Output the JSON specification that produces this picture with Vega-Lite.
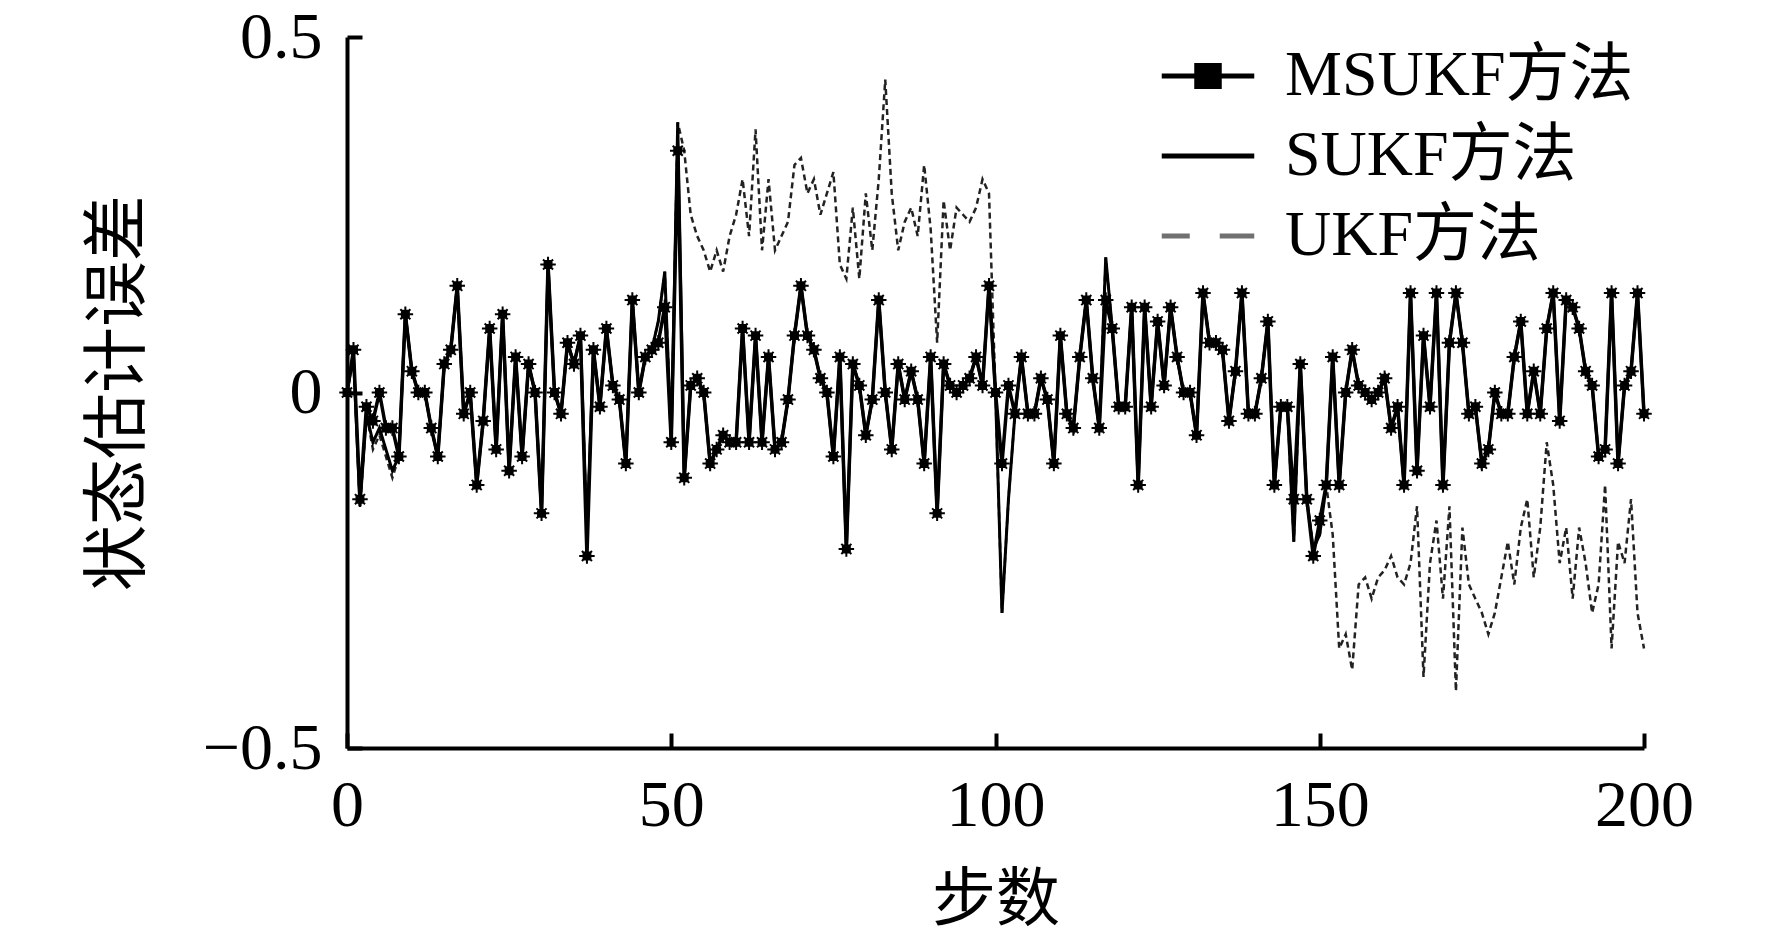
{
  "$schema": "https://vega.github.io/schema/vega-lite/v6.json",
  "width": 1297,
  "height": 711,
  "autosize": "none",
  "padding": {"left": 347, "top": 37, "right": 128, "bottom": 190},
  "background": "white",
  "config": {"view": {"stroke": null}, "font": "Liberation Serif"},
  "datasets": {
    "err": [
      {"step":0,"series":"MSUKF方法","value":0},{"step":1,"series":"MSUKF方法","value":0.06},{"step":2,"series":"MSUKF方法","value":-0.15},{"step":3,"series":"MSUKF方法","value":-0.02},{"step":4,"series":"MSUKF方法","value":-0.04},{"step":5,"series":"MSUKF方法","value":0},{"step":6,"series":"MSUKF方法","value":-0.05},{"step":7,"series":"MSUKF方法","value":-0.05},{"step":8,"series":"MSUKF方法","value":-0.09},{"step":9,"series":"MSUKF方法","value":0.11},
      {"step":10,"series":"MSUKF方法","value":0.03},{"step":11,"series":"MSUKF方法","value":0},{"step":12,"series":"MSUKF方法","value":0},{"step":13,"series":"MSUKF方法","value":-0.05},{"step":14,"series":"MSUKF方法","value":-0.09},{"step":15,"series":"MSUKF方法","value":0.04},{"step":16,"series":"MSUKF方法","value":0.06},{"step":17,"series":"MSUKF方法","value":0.15},{"step":18,"series":"MSUKF方法","value":-0.03},{"step":19,"series":"MSUKF方法","value":0},
      {"step":20,"series":"MSUKF方法","value":-0.13},{"step":21,"series":"MSUKF方法","value":-0.04},{"step":22,"series":"MSUKF方法","value":0.09},{"step":23,"series":"MSUKF方法","value":-0.08},{"step":24,"series":"MSUKF方法","value":0.11},{"step":25,"series":"MSUKF方法","value":-0.11},{"step":26,"series":"MSUKF方法","value":0.05},{"step":27,"series":"MSUKF方法","value":-0.09},{"step":28,"series":"MSUKF方法","value":0.04},{"step":29,"series":"MSUKF方法","value":0},
      {"step":30,"series":"MSUKF方法","value":-0.17},{"step":31,"series":"MSUKF方法","value":0.18},{"step":32,"series":"MSUKF方法","value":0},{"step":33,"series":"MSUKF方法","value":-0.03},{"step":34,"series":"MSUKF方法","value":0.07},{"step":35,"series":"MSUKF方法","value":0.04},{"step":36,"series":"MSUKF方法","value":0.08},{"step":37,"series":"MSUKF方法","value":-0.23},{"step":38,"series":"MSUKF方法","value":0.06},{"step":39,"series":"MSUKF方法","value":-0.02},
      {"step":40,"series":"MSUKF方法","value":0.09},{"step":41,"series":"MSUKF方法","value":0.01},{"step":42,"series":"MSUKF方法","value":-0.01},{"step":43,"series":"MSUKF方法","value":-0.1},{"step":44,"series":"MSUKF方法","value":0.13},{"step":45,"series":"MSUKF方法","value":0},{"step":46,"series":"MSUKF方法","value":0.05},{"step":47,"series":"MSUKF方法","value":0.06},{"step":48,"series":"MSUKF方法","value":0.07},{"step":49,"series":"MSUKF方法","value":0.12},
      {"step":50,"series":"MSUKF方法","value":-0.07},{"step":51,"series":"MSUKF方法","value":0.34},{"step":52,"series":"MSUKF方法","value":-0.12},{"step":53,"series":"MSUKF方法","value":0.01},{"step":54,"series":"MSUKF方法","value":0.02},{"step":55,"series":"MSUKF方法","value":0},{"step":56,"series":"MSUKF方法","value":-0.1},{"step":57,"series":"MSUKF方法","value":-0.08},{"step":58,"series":"MSUKF方法","value":-0.06},{"step":59,"series":"MSUKF方法","value":-0.07},
      {"step":60,"series":"MSUKF方法","value":-0.07},{"step":61,"series":"MSUKF方法","value":0.09},{"step":62,"series":"MSUKF方法","value":-0.07},{"step":63,"series":"MSUKF方法","value":0.08},{"step":64,"series":"MSUKF方法","value":-0.07},{"step":65,"series":"MSUKF方法","value":0.05},{"step":66,"series":"MSUKF方法","value":-0.08},{"step":67,"series":"MSUKF方法","value":-0.07},{"step":68,"series":"MSUKF方法","value":-0.01},{"step":69,"series":"MSUKF方法","value":0.08},
      {"step":70,"series":"MSUKF方法","value":0.15},{"step":71,"series":"MSUKF方法","value":0.08},{"step":72,"series":"MSUKF方法","value":0.06},{"step":73,"series":"MSUKF方法","value":0.02},{"step":74,"series":"MSUKF方法","value":0},{"step":75,"series":"MSUKF方法","value":-0.09},{"step":76,"series":"MSUKF方法","value":0.05},{"step":77,"series":"MSUKF方法","value":-0.22},{"step":78,"series":"MSUKF方法","value":0.04},{"step":79,"series":"MSUKF方法","value":0.01},
      {"step":80,"series":"MSUKF方法","value":-0.06},{"step":81,"series":"MSUKF方法","value":-0.01},{"step":82,"series":"MSUKF方法","value":0.13},{"step":83,"series":"MSUKF方法","value":0},{"step":84,"series":"MSUKF方法","value":-0.08},{"step":85,"series":"MSUKF方法","value":0.04},{"step":86,"series":"MSUKF方法","value":-0.01},{"step":87,"series":"MSUKF方法","value":0.03},{"step":88,"series":"MSUKF方法","value":-0.01},{"step":89,"series":"MSUKF方法","value":-0.1},
      {"step":90,"series":"MSUKF方法","value":0.05},{"step":91,"series":"MSUKF方法","value":-0.17},{"step":92,"series":"MSUKF方法","value":0.04},{"step":93,"series":"MSUKF方法","value":0.01},{"step":94,"series":"MSUKF方法","value":0},{"step":95,"series":"MSUKF方法","value":0.01},{"step":96,"series":"MSUKF方法","value":0.02},{"step":97,"series":"MSUKF方法","value":0.05},{"step":98,"series":"MSUKF方法","value":0.01},{"step":99,"series":"MSUKF方法","value":0.15},
      {"step":100,"series":"MSUKF方法","value":0},{"step":101,"series":"MSUKF方法","value":-0.1},{"step":102,"series":"MSUKF方法","value":0.01},{"step":103,"series":"MSUKF方法","value":-0.03},{"step":104,"series":"MSUKF方法","value":0.05},{"step":105,"series":"MSUKF方法","value":-0.03},{"step":106,"series":"MSUKF方法","value":-0.03},{"step":107,"series":"MSUKF方法","value":0.02},{"step":108,"series":"MSUKF方法","value":-0.01},{"step":109,"series":"MSUKF方法","value":-0.1},
      {"step":110,"series":"MSUKF方法","value":0.08},{"step":111,"series":"MSUKF方法","value":-0.03},{"step":112,"series":"MSUKF方法","value":-0.05},{"step":113,"series":"MSUKF方法","value":0.05},{"step":114,"series":"MSUKF方法","value":0.13},{"step":115,"series":"MSUKF方法","value":0.02},{"step":116,"series":"MSUKF方法","value":-0.05},{"step":117,"series":"MSUKF方法","value":0.13},{"step":118,"series":"MSUKF方法","value":0.09},{"step":119,"series":"MSUKF方法","value":-0.02},
      {"step":120,"series":"MSUKF方法","value":-0.02},{"step":121,"series":"MSUKF方法","value":0.12},{"step":122,"series":"MSUKF方法","value":-0.13},{"step":123,"series":"MSUKF方法","value":0.12},{"step":124,"series":"MSUKF方法","value":-0.02},{"step":125,"series":"MSUKF方法","value":0.1},{"step":126,"series":"MSUKF方法","value":0.01},{"step":127,"series":"MSUKF方法","value":0.12},{"step":128,"series":"MSUKF方法","value":0.05},{"step":129,"series":"MSUKF方法","value":0},
      {"step":130,"series":"MSUKF方法","value":0},{"step":131,"series":"MSUKF方法","value":-0.06},{"step":132,"series":"MSUKF方法","value":0.14},{"step":133,"series":"MSUKF方法","value":0.07},{"step":134,"series":"MSUKF方法","value":0.07},{"step":135,"series":"MSUKF方法","value":0.06},{"step":136,"series":"MSUKF方法","value":-0.04},{"step":137,"series":"MSUKF方法","value":0.03},{"step":138,"series":"MSUKF方法","value":0.14},{"step":139,"series":"MSUKF方法","value":-0.03},
      {"step":140,"series":"MSUKF方法","value":-0.03},{"step":141,"series":"MSUKF方法","value":0.02},{"step":142,"series":"MSUKF方法","value":0.1},{"step":143,"series":"MSUKF方法","value":-0.13},{"step":144,"series":"MSUKF方法","value":-0.02},{"step":145,"series":"MSUKF方法","value":-0.02},{"step":146,"series":"MSUKF方法","value":-0.15},{"step":147,"series":"MSUKF方法","value":0.04},{"step":148,"series":"MSUKF方法","value":-0.15},{"step":149,"series":"MSUKF方法","value":-0.23},
      {"step":150,"series":"MSUKF方法","value":-0.18},{"step":151,"series":"MSUKF方法","value":-0.13},{"step":152,"series":"MSUKF方法","value":0.05},{"step":153,"series":"MSUKF方法","value":-0.13},{"step":154,"series":"MSUKF方法","value":0},{"step":155,"series":"MSUKF方法","value":0.06},{"step":156,"series":"MSUKF方法","value":0.01},{"step":157,"series":"MSUKF方法","value":0},{"step":158,"series":"MSUKF方法","value":-0.01},{"step":159,"series":"MSUKF方法","value":0},
      {"step":160,"series":"MSUKF方法","value":0.02},{"step":161,"series":"MSUKF方法","value":-0.05},{"step":162,"series":"MSUKF方法","value":-0.02},{"step":163,"series":"MSUKF方法","value":-0.13},{"step":164,"series":"MSUKF方法","value":0.14},{"step":165,"series":"MSUKF方法","value":-0.11},{"step":166,"series":"MSUKF方法","value":0.08},{"step":167,"series":"MSUKF方法","value":-0.02},{"step":168,"series":"MSUKF方法","value":0.14},{"step":169,"series":"MSUKF方法","value":-0.13},
      {"step":170,"series":"MSUKF方法","value":0.07},{"step":171,"series":"MSUKF方法","value":0.14},{"step":172,"series":"MSUKF方法","value":0.07},{"step":173,"series":"MSUKF方法","value":-0.03},{"step":174,"series":"MSUKF方法","value":-0.02},{"step":175,"series":"MSUKF方法","value":-0.1},{"step":176,"series":"MSUKF方法","value":-0.08},{"step":177,"series":"MSUKF方法","value":0},{"step":178,"series":"MSUKF方法","value":-0.03},{"step":179,"series":"MSUKF方法","value":-0.03},
      {"step":180,"series":"MSUKF方法","value":0.05},{"step":181,"series":"MSUKF方法","value":0.1},{"step":182,"series":"MSUKF方法","value":-0.03},{"step":183,"series":"MSUKF方法","value":0.03},{"step":184,"series":"MSUKF方法","value":-0.03},{"step":185,"series":"MSUKF方法","value":0.09},{"step":186,"series":"MSUKF方法","value":0.14},{"step":187,"series":"MSUKF方法","value":-0.04},{"step":188,"series":"MSUKF方法","value":0.13},{"step":189,"series":"MSUKF方法","value":0.12},
      {"step":190,"series":"MSUKF方法","value":0.09},{"step":191,"series":"MSUKF方法","value":0.03},{"step":192,"series":"MSUKF方法","value":0.01},{"step":193,"series":"MSUKF方法","value":-0.09},{"step":194,"series":"MSUKF方法","value":-0.08},{"step":195,"series":"MSUKF方法","value":0.14},{"step":196,"series":"MSUKF方法","value":-0.1},{"step":197,"series":"MSUKF方法","value":0.01},{"step":198,"series":"MSUKF方法","value":0.03},{"step":199,"series":"MSUKF方法","value":0.14},
      {"step":200,"series":"MSUKF方法","value":-0.03},

      {"step":0,"series":"SUKF方法","value":0},{"step":1,"series":"SUKF方法","value":0.05},{"step":2,"series":"SUKF方法","value":-0.16},{"step":3,"series":"SUKF方法","value":-0.03},{"step":4,"series":"SUKF方法","value":-0.07},{"step":5,"series":"SUKF方法","value":-0.05},{"step":6,"series":"SUKF方法","value":-0.08},{"step":7,"series":"SUKF方法","value":-0.11},{"step":8,"series":"SUKF方法","value":-0.09},{"step":9,"series":"SUKF方法","value":0.11},
      {"step":10,"series":"SUKF方法","value":0.03},{"step":11,"series":"SUKF方法","value":0},{"step":12,"series":"SUKF方法","value":0},{"step":13,"series":"SUKF方法","value":-0.05},{"step":14,"series":"SUKF方法","value":-0.09},{"step":15,"series":"SUKF方法","value":0.04},{"step":16,"series":"SUKF方法","value":0.06},{"step":17,"series":"SUKF方法","value":0.15},{"step":18,"series":"SUKF方法","value":-0.03},{"step":19,"series":"SUKF方法","value":0},
      {"step":20,"series":"SUKF方法","value":-0.13},{"step":21,"series":"SUKF方法","value":-0.04},{"step":22,"series":"SUKF方法","value":0.09},{"step":23,"series":"SUKF方法","value":-0.08},{"step":24,"series":"SUKF方法","value":0.11},{"step":25,"series":"SUKF方法","value":-0.11},{"step":26,"series":"SUKF方法","value":0.05},{"step":27,"series":"SUKF方法","value":-0.09},{"step":28,"series":"SUKF方法","value":0.04},{"step":29,"series":"SUKF方法","value":0},
      {"step":30,"series":"SUKF方法","value":-0.17},{"step":31,"series":"SUKF方法","value":0.18},{"step":32,"series":"SUKF方法","value":0},{"step":33,"series":"SUKF方法","value":-0.03},{"step":34,"series":"SUKF方法","value":0.07},{"step":35,"series":"SUKF方法","value":0.04},{"step":36,"series":"SUKF方法","value":0.08},{"step":37,"series":"SUKF方法","value":-0.2},{"step":38,"series":"SUKF方法","value":0.06},{"step":39,"series":"SUKF方法","value":-0.02},
      {"step":40,"series":"SUKF方法","value":0.09},{"step":41,"series":"SUKF方法","value":0.01},{"step":42,"series":"SUKF方法","value":-0.01},{"step":43,"series":"SUKF方法","value":-0.1},{"step":44,"series":"SUKF方法","value":0.13},{"step":45,"series":"SUKF方法","value":0},{"step":46,"series":"SUKF方法","value":0.05},{"step":47,"series":"SUKF方法","value":0.06},{"step":48,"series":"SUKF方法","value":0.1},{"step":49,"series":"SUKF方法","value":0.17},
      {"step":50,"series":"SUKF方法","value":-0.07},{"step":51,"series":"SUKF方法","value":0.38},{"step":52,"series":"SUKF方法","value":-0.12},{"step":53,"series":"SUKF方法","value":0.01},{"step":54,"series":"SUKF方法","value":0.02},{"step":55,"series":"SUKF方法","value":0},{"step":56,"series":"SUKF方法","value":-0.1},{"step":57,"series":"SUKF方法","value":-0.08},{"step":58,"series":"SUKF方法","value":-0.06},{"step":59,"series":"SUKF方法","value":-0.07},
      {"step":60,"series":"SUKF方法","value":-0.07},{"step":61,"series":"SUKF方法","value":0.09},{"step":62,"series":"SUKF方法","value":-0.07},{"step":63,"series":"SUKF方法","value":0.08},{"step":64,"series":"SUKF方法","value":-0.07},{"step":65,"series":"SUKF方法","value":0.05},{"step":66,"series":"SUKF方法","value":-0.08},{"step":67,"series":"SUKF方法","value":-0.07},{"step":68,"series":"SUKF方法","value":-0.01},{"step":69,"series":"SUKF方法","value":0.08},
      {"step":70,"series":"SUKF方法","value":0.15},{"step":71,"series":"SUKF方法","value":0.08},{"step":72,"series":"SUKF方法","value":0.06},{"step":73,"series":"SUKF方法","value":0.02},{"step":74,"series":"SUKF方法","value":0},{"step":75,"series":"SUKF方法","value":-0.09},{"step":76,"series":"SUKF方法","value":0.05},{"step":77,"series":"SUKF方法","value":-0.22},{"step":78,"series":"SUKF方法","value":0.04},{"step":79,"series":"SUKF方法","value":0.01},
      {"step":80,"series":"SUKF方法","value":-0.06},{"step":81,"series":"SUKF方法","value":-0.01},{"step":82,"series":"SUKF方法","value":0.13},{"step":83,"series":"SUKF方法","value":0},{"step":84,"series":"SUKF方法","value":-0.08},{"step":85,"series":"SUKF方法","value":0.04},{"step":86,"series":"SUKF方法","value":-0.01},{"step":87,"series":"SUKF方法","value":0.03},{"step":88,"series":"SUKF方法","value":-0.01},{"step":89,"series":"SUKF方法","value":-0.1},
      {"step":90,"series":"SUKF方法","value":0.05},{"step":91,"series":"SUKF方法","value":-0.17},{"step":92,"series":"SUKF方法","value":0.04},{"step":93,"series":"SUKF方法","value":0.01},{"step":94,"series":"SUKF方法","value":0},{"step":95,"series":"SUKF方法","value":0.01},{"step":96,"series":"SUKF方法","value":0.02},{"step":97,"series":"SUKF方法","value":0.05},{"step":98,"series":"SUKF方法","value":0.01},{"step":99,"series":"SUKF方法","value":0.15},
      {"step":100,"series":"SUKF方法","value":0},{"step":101,"series":"SUKF方法","value":-0.31},{"step":102,"series":"SUKF方法","value":-0.15},{"step":103,"series":"SUKF方法","value":-0.03},{"step":104,"series":"SUKF方法","value":0.05},{"step":105,"series":"SUKF方法","value":-0.03},{"step":106,"series":"SUKF方法","value":-0.03},{"step":107,"series":"SUKF方法","value":0.02},{"step":108,"series":"SUKF方法","value":-0.01},{"step":109,"series":"SUKF方法","value":-0.1},
      {"step":110,"series":"SUKF方法","value":0.08},{"step":111,"series":"SUKF方法","value":-0.03},{"step":112,"series":"SUKF方法","value":-0.05},{"step":113,"series":"SUKF方法","value":0.05},{"step":114,"series":"SUKF方法","value":0.13},{"step":115,"series":"SUKF方法","value":0.02},{"step":116,"series":"SUKF方法","value":-0.05},{"step":117,"series":"SUKF方法","value":0.19},{"step":118,"series":"SUKF方法","value":0.09},{"step":119,"series":"SUKF方法","value":-0.02},
      {"step":120,"series":"SUKF方法","value":-0.02},{"step":121,"series":"SUKF方法","value":0.12},{"step":122,"series":"SUKF方法","value":-0.13},{"step":123,"series":"SUKF方法","value":0.12},{"step":124,"series":"SUKF方法","value":-0.02},{"step":125,"series":"SUKF方法","value":0.1},{"step":126,"series":"SUKF方法","value":0.01},{"step":127,"series":"SUKF方法","value":0.12},{"step":128,"series":"SUKF方法","value":0.05},{"step":129,"series":"SUKF方法","value":0},
      {"step":130,"series":"SUKF方法","value":0},{"step":131,"series":"SUKF方法","value":-0.06},{"step":132,"series":"SUKF方法","value":0.14},{"step":133,"series":"SUKF方法","value":0.07},{"step":134,"series":"SUKF方法","value":0.07},{"step":135,"series":"SUKF方法","value":0.06},{"step":136,"series":"SUKF方法","value":-0.04},{"step":137,"series":"SUKF方法","value":0.03},{"step":138,"series":"SUKF方法","value":0.14},{"step":139,"series":"SUKF方法","value":-0.03},
      {"step":140,"series":"SUKF方法","value":-0.03},{"step":141,"series":"SUKF方法","value":0.02},{"step":142,"series":"SUKF方法","value":0.1},{"step":143,"series":"SUKF方法","value":-0.13},{"step":144,"series":"SUKF方法","value":-0.02},{"step":145,"series":"SUKF方法","value":-0.02},{"step":146,"series":"SUKF方法","value":-0.21},{"step":147,"series":"SUKF方法","value":0.04},{"step":148,"series":"SUKF方法","value":-0.15},{"step":149,"series":"SUKF方法","value":-0.22},
      {"step":150,"series":"SUKF方法","value":-0.2},{"step":151,"series":"SUKF方法","value":-0.13},{"step":152,"series":"SUKF方法","value":0.05},{"step":153,"series":"SUKF方法","value":-0.13},{"step":154,"series":"SUKF方法","value":0},{"step":155,"series":"SUKF方法","value":0.06},{"step":156,"series":"SUKF方法","value":0.01},{"step":157,"series":"SUKF方法","value":0},{"step":158,"series":"SUKF方法","value":-0.01},{"step":159,"series":"SUKF方法","value":0},
      {"step":160,"series":"SUKF方法","value":0.02},{"step":161,"series":"SUKF方法","value":-0.05},{"step":162,"series":"SUKF方法","value":-0.02},{"step":163,"series":"SUKF方法","value":-0.13},{"step":164,"series":"SUKF方法","value":0.14},{"step":165,"series":"SUKF方法","value":-0.11},{"step":166,"series":"SUKF方法","value":0.08},{"step":167,"series":"SUKF方法","value":-0.02},{"step":168,"series":"SUKF方法","value":0.14},{"step":169,"series":"SUKF方法","value":-0.13},
      {"step":170,"series":"SUKF方法","value":0.07},{"step":171,"series":"SUKF方法","value":0.14},{"step":172,"series":"SUKF方法","value":0.07},{"step":173,"series":"SUKF方法","value":-0.03},{"step":174,"series":"SUKF方法","value":-0.02},{"step":175,"series":"SUKF方法","value":-0.1},{"step":176,"series":"SUKF方法","value":-0.08},{"step":177,"series":"SUKF方法","value":0},{"step":178,"series":"SUKF方法","value":-0.03},{"step":179,"series":"SUKF方法","value":-0.03},
      {"step":180,"series":"SUKF方法","value":0.05},{"step":181,"series":"SUKF方法","value":0.1},{"step":182,"series":"SUKF方法","value":-0.03},{"step":183,"series":"SUKF方法","value":0.03},{"step":184,"series":"SUKF方法","value":-0.03},{"step":185,"series":"SUKF方法","value":0.09},{"step":186,"series":"SUKF方法","value":0.14},{"step":187,"series":"SUKF方法","value":-0.04},{"step":188,"series":"SUKF方法","value":0.13},{"step":189,"series":"SUKF方法","value":0.12},
      {"step":190,"series":"SUKF方法","value":0.09},{"step":191,"series":"SUKF方法","value":0.03},{"step":192,"series":"SUKF方法","value":0.01},{"step":193,"series":"SUKF方法","value":-0.09},{"step":194,"series":"SUKF方法","value":-0.08},{"step":195,"series":"SUKF方法","value":0.14},{"step":196,"series":"SUKF方法","value":-0.1},{"step":197,"series":"SUKF方法","value":0.01},{"step":198,"series":"SUKF方法","value":0.03},{"step":199,"series":"SUKF方法","value":0.14},
      {"step":200,"series":"SUKF方法","value":-0.03},

      {"step":0,"series":"UKF方法","value":0},{"step":1,"series":"UKF方法","value":0.05},{"step":2,"series":"UKF方法","value":-0.16},{"step":3,"series":"UKF方法","value":-0.03},{"step":4,"series":"UKF方法","value":-0.08},{"step":5,"series":"UKF方法","value":-0.06},{"step":6,"series":"UKF方法","value":-0.09},{"step":7,"series":"UKF方法","value":-0.12},{"step":8,"series":"UKF方法","value":-0.09},{"step":9,"series":"UKF方法","value":0.11},
      {"step":10,"series":"UKF方法","value":0.03},{"step":11,"series":"UKF方法","value":0},{"step":12,"series":"UKF方法","value":0},{"step":13,"series":"UKF方法","value":-0.05},{"step":14,"series":"UKF方法","value":-0.09},{"step":15,"series":"UKF方法","value":0.04},{"step":16,"series":"UKF方法","value":0.06},{"step":17,"series":"UKF方法","value":0.15},{"step":18,"series":"UKF方法","value":-0.03},{"step":19,"series":"UKF方法","value":0},
      {"step":20,"series":"UKF方法","value":-0.13},{"step":21,"series":"UKF方法","value":-0.04},{"step":22,"series":"UKF方法","value":0.09},{"step":23,"series":"UKF方法","value":-0.08},{"step":24,"series":"UKF方法","value":0.11},{"step":25,"series":"UKF方法","value":-0.11},{"step":26,"series":"UKF方法","value":0.05},{"step":27,"series":"UKF方法","value":-0.09},{"step":28,"series":"UKF方法","value":0.04},{"step":29,"series":"UKF方法","value":0},
      {"step":30,"series":"UKF方法","value":-0.17},{"step":31,"series":"UKF方法","value":0.18},{"step":32,"series":"UKF方法","value":0},{"step":33,"series":"UKF方法","value":-0.03},{"step":34,"series":"UKF方法","value":0.07},{"step":35,"series":"UKF方法","value":0.04},{"step":36,"series":"UKF方法","value":0.08},{"step":37,"series":"UKF方法","value":-0.2},{"step":38,"series":"UKF方法","value":0.06},{"step":39,"series":"UKF方法","value":-0.02},
      {"step":40,"series":"UKF方法","value":0.09},{"step":41,"series":"UKF方法","value":0.01},{"step":42,"series":"UKF方法","value":-0.01},{"step":43,"series":"UKF方法","value":-0.1},{"step":44,"series":"UKF方法","value":0.13},{"step":45,"series":"UKF方法","value":0},{"step":46,"series":"UKF方法","value":0.05},{"step":47,"series":"UKF方法","value":0.06},{"step":48,"series":"UKF方法","value":0.1},{"step":49,"series":"UKF方法","value":0.17},
      {"step":50,"series":"UKF方法","value":-0.07},{"step":51,"series":"UKF方法","value":0.38},{"step":52,"series":"UKF方法","value":0.34},{"step":53,"series":"UKF方法","value":0.25},{"step":54,"series":"UKF方法","value":0.22},{"step":55,"series":"UKF方法","value":0.2},{"step":56,"series":"UKF方法","value":0.17},{"step":57,"series":"UKF方法","value":0.2},{"step":58,"series":"UKF方法","value":0.17},{"step":59,"series":"UKF方法","value":0.22},
      {"step":60,"series":"UKF方法","value":0.25},{"step":61,"series":"UKF方法","value":0.3},{"step":62,"series":"UKF方法","value":0.22},{"step":63,"series":"UKF方法","value":0.37},{"step":64,"series":"UKF方法","value":0.2},{"step":65,"series":"UKF方法","value":0.3},{"step":66,"series":"UKF方法","value":0.2},{"step":67,"series":"UKF方法","value":0.22},{"step":68,"series":"UKF方法","value":0.24},{"step":69,"series":"UKF方法","value":0.32},
      {"step":70,"series":"UKF方法","value":0.33},{"step":71,"series":"UKF方法","value":0.28},{"step":72,"series":"UKF方法","value":0.3},{"step":73,"series":"UKF方法","value":0.25},{"step":74,"series":"UKF方法","value":0.28},{"step":75,"series":"UKF方法","value":0.31},{"step":76,"series":"UKF方法","value":0.18},{"step":77,"series":"UKF方法","value":0.16},{"step":78,"series":"UKF方法","value":0.26},{"step":79,"series":"UKF方法","value":0.16},
      {"step":80,"series":"UKF方法","value":0.28},{"step":81,"series":"UKF方法","value":0.2},{"step":82,"series":"UKF方法","value":0.3},{"step":83,"series":"UKF方法","value":0.44},{"step":84,"series":"UKF方法","value":0.28},{"step":85,"series":"UKF方法","value":0.2},{"step":86,"series":"UKF方法","value":0.24},{"step":87,"series":"UKF方法","value":0.26},{"step":88,"series":"UKF方法","value":0.22},{"step":89,"series":"UKF方法","value":0.32},
      {"step":90,"series":"UKF方法","value":0.23},{"step":91,"series":"UKF方法","value":0.07},{"step":92,"series":"UKF方法","value":0.27},{"step":93,"series":"UKF方法","value":0.2},{"step":94,"series":"UKF方法","value":0.26},{"step":95,"series":"UKF方法","value":0.25},{"step":96,"series":"UKF方法","value":0.24},{"step":97,"series":"UKF方法","value":0.26},{"step":98,"series":"UKF方法","value":0.3},{"step":99,"series":"UKF方法","value":0.28},
      {"step":100,"series":"UKF方法","value":0},{"step":101,"series":"UKF方法","value":-0.31},{"step":102,"series":"UKF方法","value":-0.15},{"step":103,"series":"UKF方法","value":-0.03},{"step":104,"series":"UKF方法","value":0.05},{"step":105,"series":"UKF方法","value":-0.03},{"step":106,"series":"UKF方法","value":-0.03},{"step":107,"series":"UKF方法","value":0.02},{"step":108,"series":"UKF方法","value":-0.01},{"step":109,"series":"UKF方法","value":-0.1},
      {"step":110,"series":"UKF方法","value":0.08},{"step":111,"series":"UKF方法","value":-0.03},{"step":112,"series":"UKF方法","value":-0.05},{"step":113,"series":"UKF方法","value":0.05},{"step":114,"series":"UKF方法","value":0.13},{"step":115,"series":"UKF方法","value":0.02},{"step":116,"series":"UKF方法","value":-0.05},{"step":117,"series":"UKF方法","value":0.19},{"step":118,"series":"UKF方法","value":0.09},{"step":119,"series":"UKF方法","value":-0.02},
      {"step":120,"series":"UKF方法","value":-0.02},{"step":121,"series":"UKF方法","value":0.12},{"step":122,"series":"UKF方法","value":-0.13},{"step":123,"series":"UKF方法","value":0.12},{"step":124,"series":"UKF方法","value":-0.02},{"step":125,"series":"UKF方法","value":0.1},{"step":126,"series":"UKF方法","value":0.01},{"step":127,"series":"UKF方法","value":0.12},{"step":128,"series":"UKF方法","value":0.05},{"step":129,"series":"UKF方法","value":0},
      {"step":130,"series":"UKF方法","value":0},{"step":131,"series":"UKF方法","value":-0.06},{"step":132,"series":"UKF方法","value":0.14},{"step":133,"series":"UKF方法","value":0.07},{"step":134,"series":"UKF方法","value":0.07},{"step":135,"series":"UKF方法","value":0.06},{"step":136,"series":"UKF方法","value":-0.04},{"step":137,"series":"UKF方法","value":0.03},{"step":138,"series":"UKF方法","value":0.14},{"step":139,"series":"UKF方法","value":-0.03},
      {"step":140,"series":"UKF方法","value":-0.03},{"step":141,"series":"UKF方法","value":0.02},{"step":142,"series":"UKF方法","value":0.1},{"step":143,"series":"UKF方法","value":-0.13},{"step":144,"series":"UKF方法","value":-0.02},{"step":145,"series":"UKF方法","value":-0.02},{"step":146,"series":"UKF方法","value":-0.21},{"step":147,"series":"UKF方法","value":0.04},{"step":148,"series":"UKF方法","value":-0.15},{"step":149,"series":"UKF方法","value":-0.22},
      {"step":150,"series":"UKF方法","value":-0.2},{"step":151,"series":"UKF方法","value":-0.13},{"step":152,"series":"UKF方法","value":-0.2},{"step":153,"series":"UKF方法","value":-0.36},{"step":154,"series":"UKF方法","value":-0.34},{"step":155,"series":"UKF方法","value":-0.39},{"step":156,"series":"UKF方法","value":-0.27},{"step":157,"series":"UKF方法","value":-0.26},{"step":158,"series":"UKF方法","value":-0.29},{"step":159,"series":"UKF方法","value":-0.26},
      {"step":160,"series":"UKF方法","value":-0.25},{"step":161,"series":"UKF方法","value":-0.23},{"step":162,"series":"UKF方法","value":-0.26},{"step":163,"series":"UKF方法","value":-0.27},{"step":164,"series":"UKF方法","value":-0.24},{"step":165,"series":"UKF方法","value":-0.16},{"step":166,"series":"UKF方法","value":-0.4},{"step":167,"series":"UKF方法","value":-0.24},{"step":168,"series":"UKF方法","value":-0.18},{"step":169,"series":"UKF方法","value":-0.29},
      {"step":170,"series":"UKF方法","value":-0.16},{"step":171,"series":"UKF方法","value":-0.42},{"step":172,"series":"UKF方法","value":-0.19},{"step":173,"series":"UKF方法","value":-0.27},{"step":174,"series":"UKF方法","value":-0.29},{"step":175,"series":"UKF方法","value":-0.31},{"step":176,"series":"UKF方法","value":-0.34},{"step":177,"series":"UKF方法","value":-0.31},{"step":178,"series":"UKF方法","value":-0.26},{"step":179,"series":"UKF方法","value":-0.21},
      {"step":180,"series":"UKF方法","value":-0.27},{"step":181,"series":"UKF方法","value":-0.19},{"step":182,"series":"UKF方法","value":-0.15},{"step":183,"series":"UKF方法","value":-0.26},{"step":184,"series":"UKF方法","value":-0.19},{"step":185,"series":"UKF方法","value":-0.07},{"step":186,"series":"UKF方法","value":-0.13},{"step":187,"series":"UKF方法","value":-0.24},{"step":188,"series":"UKF方法","value":-0.19},{"step":189,"series":"UKF方法","value":-0.29},
      {"step":190,"series":"UKF方法","value":-0.19},{"step":191,"series":"UKF方法","value":-0.24},{"step":192,"series":"UKF方法","value":-0.31},{"step":193,"series":"UKF方法","value":-0.27},{"step":194,"series":"UKF方法","value":-0.13},{"step":195,"series":"UKF方法","value":-0.36},{"step":196,"series":"UKF方法","value":-0.21},{"step":197,"series":"UKF方法","value":-0.24},{"step":198,"series":"UKF方法","value":-0.15},{"step":199,"series":"UKF方法","value":-0.31},
      {"step":200,"series":"UKF方法","value":-0.36}
    ]
  },
  "data": {"name": "err"},
  "encoding": {
    "x": {
      "field": "step", "type": "quantitative",
      "scale": {"domain": [0, 200], "nice": false},
      "axis": {
        "title": "步数", "values": [0, 50, 100, 150, 200], "grid": false,
        "domainColor": "black", "domainWidth": 4, "tickColor": "black", "tickWidth": 4, "tickSize": -15,
        "labelFont": "Liberation Serif", "labelFontSize": 66, "labelColor": "black", "labelPadding": 40, "labelFlush": false,
        "titleFont": "Noto Sans CJK SC", "titleFontSize": 64, "titleFontWeight": "normal", "titleColor": "black", "titlePadding": 30
      }
    },
    "y": {
      "field": "value", "type": "quantitative",
      "scale": {"domain": [-0.5, 0.5], "nice": false},
      "axis": {
        "title": "状态估计误差", "values": [-0.5, 0, 0.5], "format": "~g", "grid": false,
        "domainColor": "black", "domainWidth": 4, "tickColor": "black", "tickWidth": 4, "tickSize": -15,
        "labelFont": "Liberation Serif", "labelFontSize": 66, "labelColor": "black", "labelPadding": 40, "labelFlush": false,
        "titleFont": "Noto Sans CJK SC", "titleFontSize": 66, "titleFontWeight": "normal", "titleColor": "black", "titlePadding": 50
      }
    }
  },
  "layer": [
    {
      "transform": [{"filter": "datum.series == 'UKF方法'"}],
      "mark": {"type": "line", "stroke": "#222222", "strokeWidth": 2.5, "strokeDash": [6, 4]}
    },
    {
      "transform": [{"filter": "datum.series == 'SUKF方法'"}],
      "mark": {"type": "line", "stroke": "black", "strokeWidth": 3}
    },
    {
      "transform": [{"filter": "datum.series == 'MSUKF方法'"}],
      "mark": {"type": "line", "stroke": "black", "strokeWidth": 3.5}
    },
    {
      "transform": [{"filter": "datum.series == 'MSUKF方法'"}],
      "mark": {
        "type": "point", "filled": true, "fill": "black", "stroke": "black", "strokeWidth": 2, "opacity": 1, "size": 240,
        "shape": "M-1,0H1M0,-1V1M-0.65,-0.65L0.65,0.65M-0.65,0.65L0.65,-0.65M-0.45,-0.45H0.45V0.45H-0.45Z"
      }
    },
    {
      "transform": [{"filter": "datum.step == 0"}],
      "mark": {"type": "point", "opacity": 0, "size": 2500, "filled": true, "color": "black", "fill": "black"},
      "encoding": {
        "shape": {
          "field": "series", "type": "nominal",
          "scale": {
            "domain": ["MSUKF方法", "SUKF方法", "UKF方法"],
            "range": ["M-1.85,0H1.85M-0.45,-0.42H0.45V0.42H-0.45Z", "M-1.85,0H1.85", "M-1.85,0H-0.73M0.47,0H1.85"]
          },
          "legend": {
            "title": null, "orient": "none", "legendX": 829, "legendY": 7,
            "labelFont": "Liberation Serif, Noto Sans CJK SC", "labelFontSize": 64, "labelColor": "black", "labelLimit": 1000,
            "labelOffset": 45, "rowPadding": 16, "symbolOpacity": 1, "symbolStrokeWidth": 5, "symbolSize": 2500, "symbolFillColor": "black",
            "encode": {"symbols": {"update": {"opacity": {"value": 1}, "fill": {"value": "black"}, "strokeWidth": {"value": 5}, "size": {"value": 2500}}}}
          }
        },
        "stroke": {
          "field": "series", "type": "nominal",
          "scale": {"domain": ["MSUKF方法", "SUKF方法", "UKF方法"], "range": ["black", "black", "#707070"]}
        }
      }
    }
  ]
}
